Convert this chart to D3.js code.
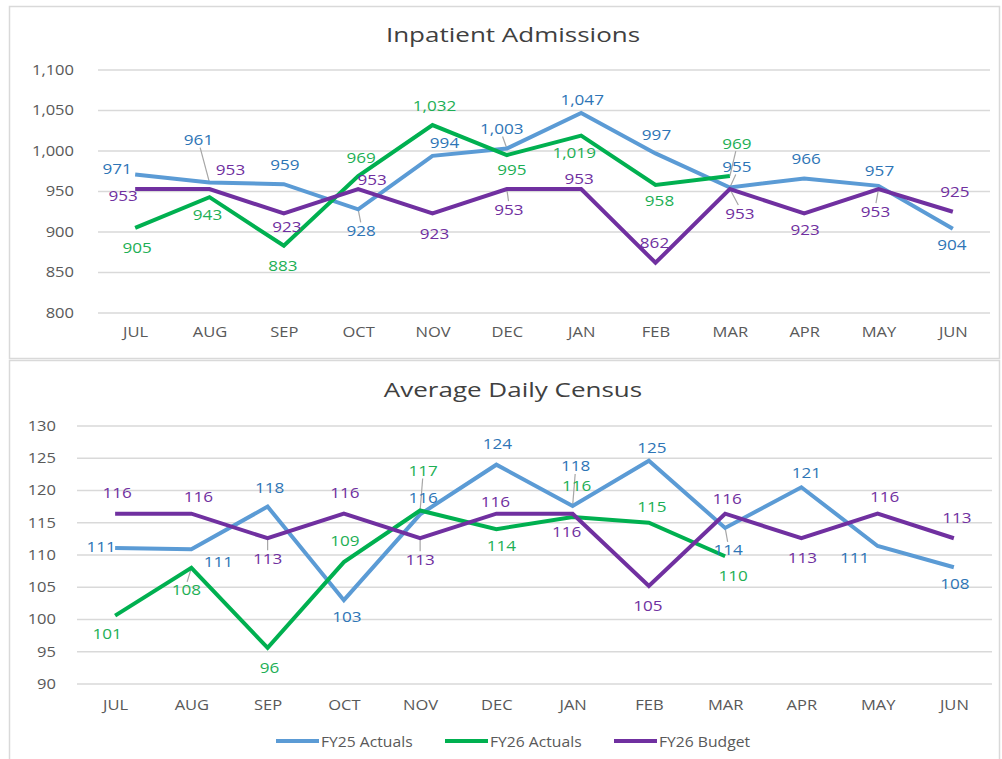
<!DOCTYPE html>
<html><head><meta charset="utf-8">
<script src="https://cdn.jsdelivr.net/npm/d3@7"></script>
<style>
html,body{margin:0;padding:0;background:#fff;}
svg{display:block;font-family:"Open Sans",sans-serif;}
</style></head>
<body><svg id="c" width="1002" height="759"></svg>
<script>
const months = ["JUL","AUG","SEP","OCT","NOV","DEC","JAN","FEB","MAR","APR","MAY","JUN"];
const seriesNames = ["FY25 Actuals","FY26 Actuals","FY26 Budget"];

// Inpatient Admissions
const admTicks = [800,850,900,950,1000,1050,1100];
const admFY25 = [971,961,959,928,994,1003,1047,997,955,966,957,904];
const admFY26 = [905,943,883,969,1032,995,1019,958,969];
const admBudget = [953,953,923,953,923,953,953,862,953,923,953,925];

// Average Daily Census
const adcTicks = [90,95,100,105,110,115,120,125,130];
const adcFY25 = [111.1,110.9,117.5,103.0,116.3,124.0,117.6,124.6,114.2,120.5,111.4,108.1];
const adcFY26 = [100.6,108.0,95.6,108.9,116.9,114.0,115.9,115.0,109.8];
const adcBudget = [116.4,116.4,112.6,116.4,112.6,116.4,116.4,105.2,116.4,112.6,116.4,112.6];

// label layout offsets [dx,dy,leader]
const admOff = [
 [[-18,-6],[-11,-43,1],[1,-20],[3,21,1],[12,-13],[-5,-20,1],[1,-13],[1,-19],[7,-21,1],[2,-20],[1,-15],[-1,16]],
 [[2,20],[-2,17],[-1,20],[3,-19],[2,-20],[5,14],[-7,17],[4,15],[7,-33,1]],
 [[-12,6],[21,-20],[3,13],[14,-10],[2,20],[2,20,1],[-2,-11],[-1,-20],[10,24,1],[1,16],[-3,22,1],[2,-20]]
];
const adcOff = [
 [[-14,-1],[27,12],[2,-19],[3,16],[3,-17],[1,-21],[3,-40,1],[3,-13],[3,22,1],[5,-15],[-23,12],[1,16]],
 [[-8,18],[-5,22,1],[2,20],[1,-22],[3,-40,1],[5,16],[4,-31],[3,-16],[8,19]],
 [[2,-21],[7,-17],[0,20,1],[1,-21],[0,21,1],[-1,-12],[-6,18],[-1,20],[2,-15],[1,19],[7,-17],[3,-21]]
];

const lineColors = ["#5B9BD5","#00B050","#7030A0"];
const labelColors = ["#2E75B6","#1DAF55","#7030A0"];
const SX = 1.18;

const svg = d3.select("#c");

svg.append("rect").attr("x",9.5).attr("y",6.5).attr("width",990).attr("height",352)
  .attr("fill","none").attr("stroke","#D9D9D9").attr("stroke-width",1.5);
svg.append("rect").attr("x",9.5).attr("y",360.5).attr("width",990).attr("height",410)
  .attr("fill","none").attr("stroke","#D9D9D9").attr("stroke-width",1.5);

function drawChart(cfg){
  const g = svg.append("g");
  const x = d3.scalePoint().domain(months).range([cfg.left, cfg.right]).padding(0.5);
  const y = d3.scaleLinear().domain([cfg.ticks[0], cfg.ticks[cfg.ticks.length-1]]).range([cfg.bottom, cfg.top]);

  g.selectAll(".grid").data(cfg.ticks).join("line")
    .attr("x1",cfg.left).attr("x2",cfg.right)
    .attr("y1",d=>y(d)).attr("y2",d=>y(d))
    .attr("stroke","#D9D9D9").attr("stroke-width",1.5);

  const yAxis = d3.axisLeft(y).tickValues(cfg.ticks).tickFormat(d3.format(",")).tickSize(0).tickPadding(0);
  const ya = g.append("g").attr("transform",`translate(${cfg.yLabelX},0)`).call(yAxis);
  ya.select(".domain").remove();
  ya.selectAll("text").attr("fill","#595959").attr("font-size",14).attr("font-family","Open Sans")
    .attr("transform",`scale(${SX},1)`);

  const xAxis = d3.axisBottom(x).tickSize(0).tickPadding(0);
  const xa = g.append("g").attr("transform",`translate(0,${cfg.xLabelY})`).call(xAxis);
  xa.select(".domain").remove();
  xa.selectAll("text").attr("fill","#595959").attr("font-size",14).attr("font-family","Open Sans").attr("dy","0")
    .attr("transform",`scale(${SX},1)`);

  g.append("text").attr("transform",`translate(513,${cfg.titleY}) scale(1.3,1)`).attr("text-anchor","middle")
    .attr("font-size",20).attr("fill","#404040").text(cfg.title);

  const line = d3.line().x((d,i)=>x(months[i])).y(d=>y(d));
  const fmt = d3.format(",.0f");

  cfg.series.forEach((vals,si)=>{
    vals.forEach((v,i)=>{
      const o = cfg.off[si][i];
      if(o[2]){
        const px = x(months[i]), py = y(v);
        const lx = px+o[0], ly = py+o[1];
        const dirY = Math.sign(o[1]);
        g.append("line").attr("x1",px).attr("y1",py)
          .attr("x2",lx - o[0]*0.15).attr("y2",ly - dirY*8)
          .attr("stroke","#A6A6A6").attr("stroke-width",1.2);
      }
    });
  });

  cfg.series.forEach((vals,si)=>{
    g.append("path").datum(vals).attr("d",line)
      .attr("fill","none").attr("stroke",lineColors[si]).attr("stroke-width",4)
      .attr("stroke-linejoin","miter").attr("stroke-linecap","butt");
  });

  cfg.series.forEach((vals,si)=>{
    g.selectAll(null).data(vals).join("text")
      .attr("transform",(d,i)=>`translate(${x(months[i])+cfg.off[si][i][0]},${y(d)+cfg.off[si][i][1]}) scale(${SX},1)`)
      .attr("text-anchor","middle").attr("dominant-baseline","central")
      .attr("font-size",14.5).attr("fill",labelColors[si])
      .text(d=>fmt(d));
  });
}

drawChart({title:"Inpatient Admissions", titleY:42, ticks:admTicks, left:98, right:990, top:70, bottom:313,
  yLabelX:74, xLabelY:337, series:[admFY25,admFY26,admBudget], off:admOff});
drawChart({title:"Average Daily Census", titleY:397, ticks:adcTicks, left:77, right:992, top:426, bottom:684,
  yLabelX:56, xLabelY:710, series:[adcFY25,adcFY26,adcBudget], off:adcOff});

const legX = [276,445,614];
const lg = svg.append("g");
seriesNames.forEach((n,i)=>{
  lg.append("line").attr("x1",legX[i]).attr("x2",legX[i]+43).attr("y1",741).attr("y2",741)
    .attr("stroke",lineColors[i]).attr("stroke-width",4);
  lg.append("text").attr("transform",`translate(${legX[i]+45},741) scale(1.12,1)`).attr("dominant-baseline","central")
    .attr("font-size",14).attr("fill","#595959").text(n);
});
</script></body></html>
